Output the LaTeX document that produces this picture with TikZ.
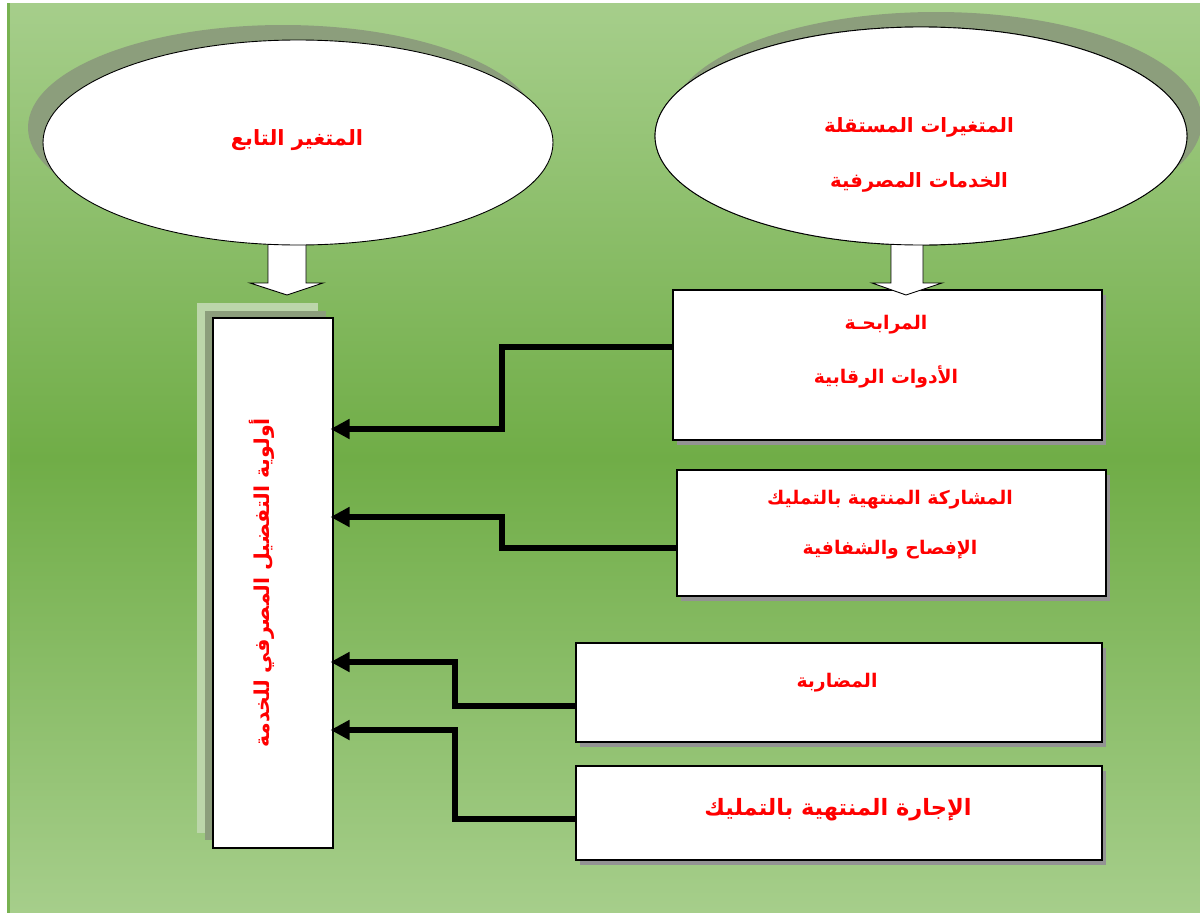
\documentclass[tikz,border=0pt]{standalone}
\usepackage{fontspec}
\usetikzlibrary{shapes.geometric,arrows.meta,shadows}
\newfontfamily\arabicfont[Script=Arabic]{DejaVu Sans}
\TeXXeTstate=1
\definecolor{bgtop}{HTML}{A6CE8B}
\definecolor{bgmid}{HTML}{70AD47}
\definecolor{shgreen}{HTML}{8C9E7C}
\definecolor{shlight}{HTML}{BCD6AA}
\definecolor{txtred}{HTML}{FF0000}
\tikzset{
  ar/.style={font=\arabicfont\bfseries\fontsize{18.8}{22}\selectfont, text=txtred, inner sep=0pt},
  bubble/.style={ellipse, draw=black, line width=0.9pt, fill=white, inner sep=0pt},
  rbox/.style={rectangle, draw=black, line width=1.3pt, fill=white, inner sep=0pt,
    general shadow={fill=gray!85, shadow xshift=4pt, shadow yshift=-5pt}},
  blockarrow/.style={draw=black, line width=0.9pt, fill=white, line join=miter},
  conn/.style={draw=black, line width=6pt, line join=miter,
    -{Triangle[length=19pt,width=19pt]}, shorten >=-3pt},
}
\begin{document}
\begin{tikzpicture}[x=1pt,y=-1pt]
\useasboundingbox (0,0) rectangle (1200,913);
\fill[white] (0,0) rectangle (1200,913);
\shade[top color=bgtop, bottom color=bgtop, middle color=bgmid] (7,3) rectangle (1200,913);
\fill[bgmid!85!bgtop] (7,3) rectangle (10,913);

% ellipse shadows
\fill[shgreen] (283,127.5) ellipse [x radius=255, y radius=102.5];
\fill[shgreen] (936,121) ellipse [x radius=266, y radius=109];

% block arrows (behind ellipses)
\draw[blockarrow] (268,225) -- (268,283) -- (250,283) -- (287,295) -- (323,283) -- (306,283) -- (306,225) -- cycle;

% ellipses
\node[bubble, minimum width=510pt, minimum height=205pt] (dv) at (298,142.5) {};
\node[bubble, minimum width=532pt, minimum height=218pt] (iv) at (921,136) {};

% tall dependent box with soft shadow
\fill[shlight] (197,303) rectangle (318,833);
\fill[shgreen] (205,311) rectangle (326,840);
\node[rectangle, draw=black, line width=1.1pt, fill=white, inner sep=0pt,
  minimum width=120pt, minimum height=530pt] (dep) at (273,583) {};

% right boxes
\node[rbox, minimum width=429pt, minimum height=150pt] (b1) at (887.5,365) {};
\node[rbox, minimum width=429pt, minimum height=126pt] (b2) at (891.5,533) {};
\node[rbox, minimum width=526pt, minimum height=99pt] (b3) at (839,692.5) {};
\node[rbox, minimum width=526pt, minimum height=94pt] (b4) at (839,813) {};

% right block arrow (on top of box 1)
\draw[blockarrow] (891,225) -- (891,283) -- (872,283) -- (906,295) -- (942,283) -- (923,283) -- (923,225) -- cycle;
\node[bubble, minimum width=532pt, minimum height=218pt] (iv2) at (921,136) {};

% texts
\node[ar, font=\arabicfont\bfseries\fontsize{21}{24}\selectfont] (t0) at (297,140) {\beginR المتغير التابع\endR};
\node[ar, font=\arabicfont\bfseries\fontsize{19.7}{23}\selectfont] (t1) at (919,127) {\beginR المتغيرات المستقلة\endR};
\node[ar, font=\arabicfont\bfseries\fontsize{19.7}{23}\selectfont] (t2) at (919,182) {\beginR الخدمات المصرفية\endR};
\node[ar] (t3) at (886,325) {\beginR المرابحـة\endR};
\node[ar] (t4) at (886,377) {\beginR الأدوات الرقابية\endR};
\node[ar] (t5) at (890,500) {\beginR المشاركة المنتهية بالتمليك\endR};
\node[ar] (t6) at (890,550) {\beginR الإفصاح والشفافية\endR};
\node[ar] (t7) at (837,683) {\beginR المضاربة\endR};
\node[ar, font=\arabicfont\bfseries\fontsize{22.5}{26}\selectfont] (t8) at (838,810) {\beginR الإجارة المنتهية بالتمليك\endR};
\node[ar, font=\arabicfont\bfseries\fontsize{20.5}{24}\selectfont, rotate=90] (t9) at (262,583) {\beginR أولوية التفضيل المصرفي للخدمة\endR};

% connectors
\draw[conn] ([yshift=18pt]b1.west) -- ++(-170,0) |- ([yshift=154pt]dep.east);
\draw[conn] ([yshift=-15pt]b2.west) -- ++(-174,0) |- ([yshift=66pt]dep.east);
\draw[conn] ([yshift=-13.5pt]b3.west) -- ++(-120,0) |- ([yshift=-79pt]dep.east);
\draw[conn] ([yshift=-6pt]b4.west) -- ++(-120,0) |- ([yshift=-147pt]dep.east);
\end{tikzpicture}
\end{document}
